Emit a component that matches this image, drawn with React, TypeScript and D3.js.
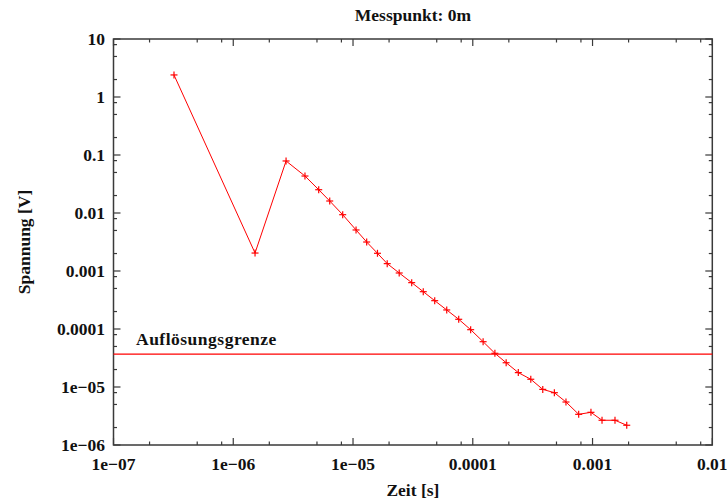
import React from "react";
import * as d3 from "d3";

const times = [3.2e-7, 1.52e-6, 2.76e-6, 3.97e-6, 5.17e-6, 6.39e-6, 8.2e-6, 1.06e-5, 1.3e-5, 1.6e-5, 1.93e-5, 2.43e-5, 3.09e-5, 3.86e-5, 4.81e-5, 6.06e-5, 7.63e-5, 9.6e-5, 1.22e-4, 1.53e-4, 1.9e-4, 2.4e-4, 3.05e-4, 3.84e-4, 4.8e-4, 6.0e-4, 7.66e-4, 9.7e-4, 1.2e-3, 1.54e-3, 1.93e-3];
const voltages = [2.4, 0.00204, 0.0789, 0.0434, 0.0252, 0.0161, 0.00935, 0.0051, 0.00316, 0.00202, 0.00134, 0.000924, 0.00063, 0.00044, 0.000308, 0.000213, 0.000147, 9.73e-5, 6.04e-5, 3.81e-5, 2.62e-5, 1.77e-5, 1.36e-5, 9.1e-6, 7.98e-6, 5.51e-6, 3.38e-6, 3.66e-6, 2.67e-6, 2.67e-6, 2.19e-6];
const xTickValues = [1e-7, 1e-6, 1e-5, 1e-4, 1e-3, 1e-2];
const xTickLabels = ["1e\u221207", "1e\u221206", "1e\u221205", "0.0001", "0.001", "0.01"];
const yTickValues = [1e-6, 1e-5, 1e-4, 1e-3, 1e-2, 0.1, 1, 10];
const yTickLabels = ["1e\u221206", "1e\u221205", "0.0001", "0.001", "0.01", "0.1", "1", "10"];
const minorFactors = [2, 5, 8];
const resolutionLimit = 3.7e-5;
const title = "Messpunkt: 0m";
const xLabel = "Zeit [s]";
const yLabel = "Spannung [V]";
const limitLabel = "Auflösungsgrenze";

const W = 727, H = 500;
const left = 113.5, right = 712.3, top = 39, bottom = 445;
const font = "'Liberation Serif', serif";
const fs = 17.5;

export default function App() {
  const x = d3.scaleLog().domain([1e-7, 1e-2]).range([left, right]);
  const y = d3.scaleLog().domain([1e-6, 10]).range([bottom, top]);
  const data = times.map((t, i) => [t, voltages[i]] as [number, number]);
  const line = d3.line<[number, number]>().x(d => x(d[0])).y(d => y(d[1]));

  const xMinor: number[] = [];
  xTickValues.slice(0, -1).forEach(v => minorFactors.forEach(f => xMinor.push(v * f)));
  const yMinor: number[] = [];
  yTickValues.slice(0, -1).forEach(v => minorFactors.forEach(f => yMinor.push(v * f)));

  const axisColor = "#3a3a3a";
  const maj = 7, mnr = 3.5;

  return (
    <svg width={W} height={H} style={{ position: "absolute", left: 0, top: 0, background: "#fff" }}>
      <rect x={0} y={0} width={W} height={H} fill="#fff" />
      {xTickValues.map((v, i) => (
        <g key={"xt" + i}>
          <line x1={x(v)} x2={x(v)} y1={bottom} y2={bottom - maj} stroke={axisColor} strokeWidth={1.2} />
          <line x1={x(v)} x2={x(v)} y1={top} y2={top + maj} stroke={axisColor} strokeWidth={1.2} />
          <text x={x(v)} y={470} textAnchor="middle" fontFamily={font} fontWeight="bold" fontSize={fs} fill="#111">{xTickLabels[i]}</text>
        </g>
      ))}
      {xMinor.map((v, i) => (
        <g key={"xm" + i}>
          <line x1={x(v)} x2={x(v)} y1={bottom} y2={bottom - mnr} stroke={axisColor} strokeWidth={1.2} />
          <line x1={x(v)} x2={x(v)} y1={top} y2={top + mnr} stroke={axisColor} strokeWidth={1.2} />
        </g>
      ))}
      {yTickValues.map((v, i) => (
        <g key={"yt" + i}>
          <line x1={left} x2={left + maj} y1={y(v)} y2={y(v)} stroke={axisColor} strokeWidth={1.2} />
          <line x1={right} x2={right - maj} y1={y(v)} y2={y(v)} stroke={axisColor} strokeWidth={1.2} />
          <text x={105} y={y(v)} dy="0.35em" textAnchor="end" fontFamily={font} fontWeight="bold" fontSize={fs} fill="#111">{yTickLabels[i]}</text>
        </g>
      ))}
      {yMinor.map((v, i) => (
        <g key={"ym" + i}>
          <line x1={left} x2={left + mnr} y1={y(v)} y2={y(v)} stroke={axisColor} strokeWidth={1.2} />
          <line x1={right} x2={right - mnr} y1={y(v)} y2={y(v)} stroke={axisColor} strokeWidth={1.2} />
        </g>
      ))}
      <rect x={left} y={top} width={right - left} height={bottom - top} fill="none" stroke={axisColor} strokeWidth={1.5} />
      <line x1={left} x2={right} y1={y(resolutionLimit)} y2={y(resolutionLimit)} stroke="#ff0000" strokeWidth={1.2} />
      <text x={136} y={y(resolutionLimit) - 9} fontFamily={font} fontWeight="bold" fontSize={fs} letterSpacing={0.5} fill="#111">{limitLabel}</text>
      <path d={line(data) || ""} fill="none" stroke="#ff0000" strokeWidth={1} />
      {data.map((d, i) => (
        <g key={"p" + i} stroke="#ff0000" strokeWidth={1.2}>
          <line x1={x(d[0]) - 3.5} x2={x(d[0]) + 3.5} y1={y(d[1])} y2={y(d[1])} />
          <line x1={x(d[0])} x2={x(d[0])} y1={y(d[1]) - 3.5} y2={y(d[1]) + 3.5} />
        </g>
      ))}
      <text x={(left + right) / 2} y={21} textAnchor="middle" fontFamily={font} fontWeight="bold" fontSize={fs} fill="#111">{title}</text>
      <text x={(left + right) / 2} y={496} textAnchor="middle" fontFamily={font} fontWeight="bold" fontSize={fs} fill="#111">{xLabel}</text>
      <text transform={`translate(30,${(top + bottom) / 2}) rotate(-90)`} textAnchor="middle" fontFamily={font} fontWeight="bold" fontSize={fs} fill="#111">{yLabel}</text>
    </svg>
  );
}
